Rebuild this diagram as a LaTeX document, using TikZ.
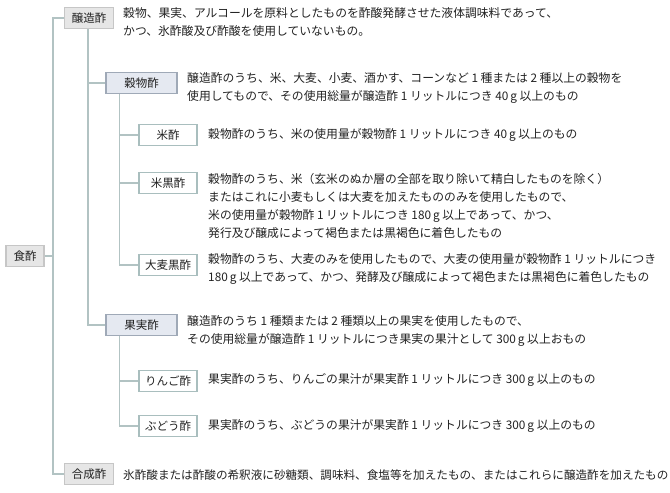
\documentclass[tikz,border=0pt]{standalone}
\usepackage{fontspec}
\setmainfont{Noto Sans CJK JP}
\definecolor{lineC}{HTML}{B2C3C3}
\definecolor{grayFill}{HTML}{E6E6E6}
\definecolor{grayBorder}{HTML}{C6C6C6}
\definecolor{blueFill}{HTML}{E5E9F1}
\definecolor{blueBorder}{HTML}{9FA9B7}
\definecolor{whiteBorder}{HTML}{A9BEBE}
\definecolor{txt}{HTML}{222222}
\tikzset{
  conn/.style={draw=lineC, line width=1.6bp},
  box/.style={inner sep=0pt, minimum height=21bp, text=txt, font=\fontsize{11.5bp}{14bp}\selectfont, line width=1.2bp},
  graybox/.style={box, fill=grayFill, draw=grayBorder},
  bluebox/.style={box, fill=blueFill, draw=blueBorder, minimum width=71bp},
  whitebox/.style={box, fill=white, draw=whiteBorder, minimum width=58bp},
  desc/.style={anchor=west, inner sep=0pt, align=left, text=txt, font=\fontsize{11.8bp}{18bp}\selectfont},
}
\begin{document}
\begin{tikzpicture}[x=1bp,y=-1bp]
\useasboundingbox (0,0) rectangle (670,493);
% boxes
\node[graybox, minimum width=38bp] (shoku) at (25,256) {食酢};
\node[graybox, minimum width=49bp] (jozo) at (89,18) {醸造酢};
\node[graybox, minimum width=49bp] (gosei) at (89,474) {合成酢};
\node[bluebox] (koku) at (141.5,83) {穀物酢};
\node[bluebox] (kaji) at (141.5,325) {果実酢};
\node[whitebox] (kome) at (168,135) {米酢};
\node[whitebox] (kuro) at (168,183) {米黒酢};
\node[whitebox] (omugi) at (168,265) {大麦黒酢};
\node[whitebox] (ringo) at (168,381) {りんご酢};
\node[whitebox] (budo) at (168,426) {ぶどう酢};
% connectors
\coordinate (trunk) at (53,256);
\draw[conn] (shoku.east) -- (trunk);
\draw[conn] (jozo.west) -| (trunk) |- (gosei.west);
\coordinate (jb) at (88,29);
\draw[conn] (jb) |- (koku.west);
\draw[conn] (jb) |- (kaji.west);
\coordinate (kb) at ([xshift=14bp]koku.south west);
\draw[conn] (kb) |- (kome.west);
\draw[conn] (kb) |- (kuro.west);
\draw[conn] (kb) |- (omugi.west);
\coordinate (fb) at ([xshift=14bp]kaji.south west);
\draw[conn] (fb) |- (ringo.west);
\draw[conn] (fb) |- (budo.west);
% redraw boxes on top of line ends
\node[graybox, minimum width=49bp] at (jozo) {醸造酢};
\node[bluebox] at (koku) {穀物酢};
\node[bluebox] at (kaji) {果実酢};
% descriptions
\node[desc] (tjozo) at (123,22.5) {穀物、果実、アルコールを原料としたものを酢酸発酵させた液体調味料であって、\\かつ、氷酢酸及び酢酸を使用していないもの。};
\node[desc] (tkoku) at (187,88.5) {醸造酢のうち、米、大麦、小麦、酒かす、コーンなど 1 種または 2 種以上の穀物を\\使用してもので、その使用総量が醸造酢 1 リットルにつき 40\,g 以上のもの};
\node[desc] (tkome) at (208,135) {穀物酢のうち、米の使用量が穀物酢 1 リットルにつき 40\,g 以上のもの};
\node[desc] (tkuro) at (208,206) {穀物酢のうち、米（玄米のぬか層の全部を取り除いて精白したものを除く）\\またはこれに小麦もしくは大麦を加えたもののみを使用したもので、\\米の使用量が穀物酢 1 リットルにつき 180\,g 以上であって、かつ、\\発行及び醸成によって褐色または黒褐色に着色したもの};
\node[desc] (tomugi) at (208,269) {穀物酢のうち、大麦のみを使用したもので、大麦の使用量が穀物酢 1 リットルにつき\\180\,g 以上であって、かつ、発酵及び醸成によって褐色または黒褐色に着色したもの};
\node[desc] (tkaji) at (187,331) {醸造酢のうち 1 種類または 2 種類以上の果実を使用したもので、\\その使用総量が醸造酢 1 リットルにつき果実の果汁として 300\,g 以上おもの};
\node[desc] (tringo) at (208,380) {果実酢のうち、りんごの果汁が果実酢 1 リットルにつき 300\,g 以上のもの};
\node[desc] (tbudo) at (208,426) {果実酢のうち、ぶどうの果汁が果実酢 1 リットルにつき 300\,g 以上のもの};
\node[desc, font=\fontsize{11.6bp}{18bp}\selectfont] (tgosei) at (123,475) {氷酢酸または酢酸の希釈液に砂糖類、調味料、食塩等を加えたもの、またはこれらに醸造酢を加えたもの};
\end{tikzpicture}
\end{document}
